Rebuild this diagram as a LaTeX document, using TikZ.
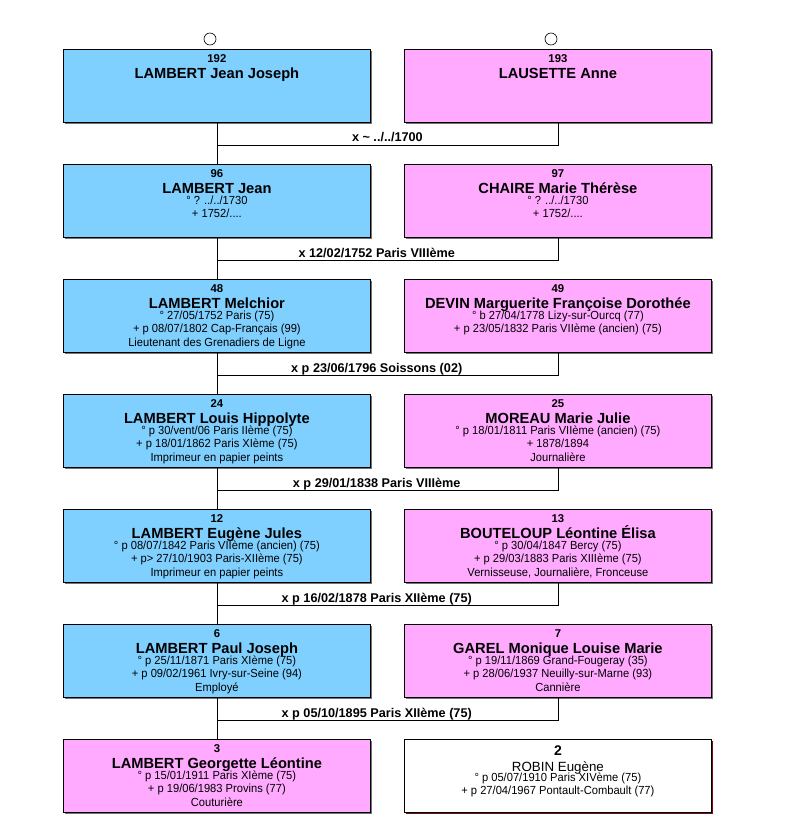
\documentclass[tikz,border=0pt]{standalone}
\usepackage{fontspec}
\setmainfont{Liberation Sans}
\newfontfamily\etroit[FakeStretch=0.95]{Liberation Sans}
\usetikzlibrary{positioning, shadows}

\definecolor{bleuhomme}{RGB}{128,208,255}
\definecolor{rosefemme}{RGB}{255,170,255}
\definecolor{ombrerouge}{RGB}{120,10,20}

% fiche : numero, nom, trois lignes de details
\newcommand{\fiche}[5]{%
  \parbox[t][54.75pt][t]{230.25pt}{\centering\lineskiplimit=-20pt
    {\fontsize{8.5}{10}\selectfont\bfseries\rule{0pt}{9.8pt}#1\par}
    {\fontsize{11}{12.1}\selectfont\bfseries #2\par}
    {\etroit\fontsize{8.8}{8.25}\selectfont #3\par}
    {\etroit\fontsize{8.8}{9.75}\selectfont #4\par}
    {\etroit\fontsize{8.8}{10.5}\selectfont #5\par}}}

\begin{document}
\begin{tikzpicture}[
    x=0.75pt, y=-0.75pt,
    fiche/.style={draw, line width=0.6pt, inner sep=0pt, anchor=north west,
      drop shadow={shadow xshift=1pt, shadow yshift=-1pt, fill=black!55, opacity=1}},
    homme/.style={fiche, fill=bleuhomme},
    femme/.style={fiche, fill=rosefemme},
    conjoint/.style={fiche, fill=white,
      drop shadow={shadow xshift=1.2pt, shadow yshift=-1.2pt, fill=ombrerouge, opacity=1}},
    lien/.style={draw, line width=0.6pt},
    union/.style={anchor=base, yshift=2.6pt, xshift=-8pt, inner sep=0pt,
      font=\fontsize{9.5}{11}\selectfont\bfseries},
    parent/.style={draw, circle, line width=0.5pt, minimum size=9pt, inner sep=0pt}
  ]
  \path[fill=white] (0,0) rectangle (785,820);
  \useasboundingbox (0,0) rectangle (785,820);

  % generation 8
  \node[parent] (o192) at (210,39) {};
  \node[parent] (o193) at (551,39) {};
  \node[homme] (s192) at (63,49) {\fiche{192}{LAMBERT Jean Joseph}{}{}{}};
  \node[femme] (s193) at (404,49) {\fiche{193}{LAUSETTE Anne}{}{}{}};

  % generation 7
  \node[homme] (s96) at (63,164) {\fiche{96}{LAMBERT Jean}{° ? ../../1730}{+ 1752/....}{}};
  \node[femme] (s97) at (404,164) {\fiche{97}{CHAIRE Marie Thérèse}{° ? ../../1730}{+ 1752/....}{}};

  % generation 6
  \node[homme] (s48) at (63,279) {\fiche{48}{LAMBERT Melchior}{° 27/05/1752 Paris (75)}{+ p 08/07/1802 Cap-Français (99)}{Lieutenant des Grenadiers de Ligne}};
  \node[femme] (s49) at (404,279) {\fiche{49}{DEVIN Marguerite Françoise Dorothée}{° b 27/04/1778 Lizy-sur-Ourcq (77)}{+ p 23/05/1832 Paris VIIème (ancien) (75)}{}};

  % generation 5
  \node[homme] (s24) at (63,394) {\fiche{24}{LAMBERT Louis Hippolyte}{° p 30/vent/06 Paris IIème (75)}{+ p 18/01/1862 Paris XIème (75)}{Imprimeur en papier peints}};
  \node[femme] (s25) at (404,394) {\fiche{25}{MOREAU Marie Julie}{° p 18/01/1811 Paris VIIème (ancien) (75)}{+ 1878/1894}{Journalière}};

  % generation 4
  \node[homme] (s12) at (63,509) {\fiche{12}{LAMBERT Eugène Jules}{° p 08/07/1842 Paris VIIème (ancien) (75)}{+ p> 27/10/1903 Paris-XIIème (75)}{Imprimeur en papier peints}};
  \node[femme] (s13) at (404,509) {\fiche{13}{BOUTELOUP Léontine Élisa}{° p 30/04/1847 Bercy (75)}{+ p 29/03/1883 Paris XIIIème (75)}{Vernisseuse, Journalière, Fronceuse}};

  % generation 3
  \node[homme] (s6) at (63,624) {\fiche{6}{LAMBERT Paul Joseph}{° p 25/11/1871 Paris XIème (75)}{+ p 09/02/1961 Ivry-sur-Seine (94)}{Employé}};
  \node[femme] (s7) at (404,624) {\fiche{7}{GAREL Monique Louise Marie}{° p 19/11/1869 Grand-Fougeray (35)}{+ p 28/06/1937 Neuilly-sur-Marne (93)}{Cannière}};

  % generation 2
  \node[femme] (s3) at (63,739) {\fiche{3}{LAMBERT Georgette Léontine}{° p 15/01/1911 Paris XIème (75)}{+ p 19/06/1983 Provins (77)}{Couturière}};
  \node[conjoint] (s2) at (404,739) {\parbox[t][54.75pt][t]{230.25pt}{\centering\lineskiplimit=-20pt
    {\fontsize{10.5}{11}\selectfont\bfseries\rule{0pt}{12.3pt}2\par}
    {\fontsize{10}{11.5}\selectfont ROBIN Eugène\par}
    {\etroit\fontsize{8.8}{7.8}\selectfont ° p 05/07/1910 Paris XIVème (75)\par}
    {\etroit\fontsize{8.8}{9.75}\selectfont + p 27/04/1967 Pontault-Combault (77)\par}}};

  % liens de filiation et unions
  \draw[lien] (s192.south) -- (s96.north);
  \draw[lien] (s193.south) |- node[union, pos=.75, xshift=8pt] (x192) {x \textasciitilde{} ../../1700} ([yshift=-17pt]s192.south);
  \draw[lien] (s96.south) -- (s48.north);
  \draw[lien] (s97.south) |- node[union, pos=.75] (x96) {x 12/02/1752 Paris VIIIème} ([yshift=-17pt]s96.south);
  \draw[lien] (s48.south) -- (s24.north);
  \draw[lien] (s49.south) |- node[union, pos=.75] (x48) {x p 23/06/1796 Soissons (02)} ([yshift=-17pt]s48.south);
  \draw[lien] (s24.south) -- (s12.north);
  \draw[lien] (s25.south) |- node[union, pos=.75] (x24) {x p 29/01/1838 Paris VIIIème} ([yshift=-17pt]s24.south);
  \draw[lien] (s12.south) -- (s6.north);
  \draw[lien] (s13.south) |- node[union, pos=.75] (x12) {x p 16/02/1878 Paris XIIème (75)} ([yshift=-17pt]s12.south);
  \draw[lien] (s6.south) -- (s3.north);
  \draw[lien] (s7.south) |- node[union, pos=.75] (x6) {x p 05/10/1895 Paris XIIème (75)} ([yshift=-17pt]s6.south);
\end{tikzpicture}
\end{document}
